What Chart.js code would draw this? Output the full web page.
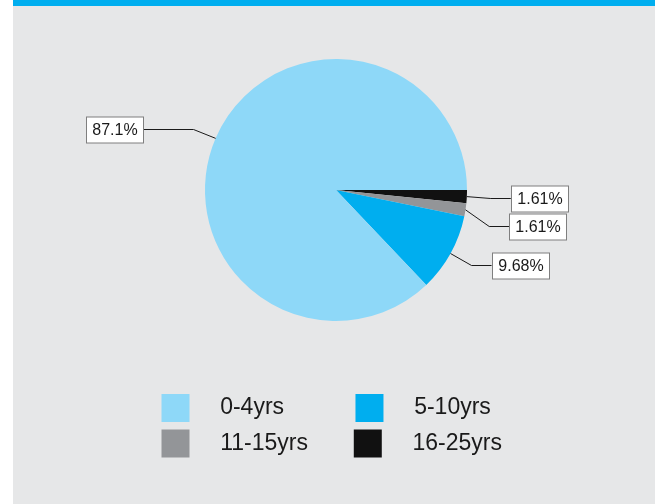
<!DOCTYPE html>
<html>
<head>
<meta charset="utf-8">
<script src="https://cdn.jsdelivr.net/npm/chart.js@4.4.1/dist/chart.umd.min.js"></script>
<style>
  html, body { margin: 0; padding: 0; background: #ffffff; }
  #panel { position: absolute; left: 13px; top: 0; width: 642px; height: 504px; background: #e6e7e8; border-top: 6px solid #00aeef; box-sizing: border-box; }
  #myChart { position: absolute; left: 0; top: 0; }
</style>
</head>
<body>
<div id="panel"></div>
<canvas id="myChart" width="655" height="504"></canvas>
<script>
// 데이터 (legend order)
const categories = ["0-4yrs", "5-10yrs", "11-15yrs", "16-25yrs"];
const shares = [87.1, 9.68, 1.61, 1.61];
const colors = ["#8ed8f8", "#00aeef", "#939598", "#111111"];

// pie runs counter-clockwise in the original, so feed it reversed
const pieLabels = categories.slice().reverse();
const pieValues = shares.slice().reverse();
const pieColors = colors.slice().reverse();

Chart.defaults.font.family = "'Liberation Sans', Arial, Helvetica, sans-serif";
Chart.defaults.color = "#1a1a1a";

// 라벨 박스 + 지시선
const callouts = {
  id: "callouts",
  afterDatasetsDraw(chart) {
    const ctx = chart.ctx;
    const meta = chart.getDatasetMeta(0);
    const boxH = 26;
    const items = meta.data.map((arc, i) => {
      const p = arc.getProps(["x", "y", "startAngle", "endAngle", "outerRadius"], true);
      const mid = (p.startAngle + p.endAngle) / 2;
      const c = Math.cos(mid), s = Math.sin(mid);
      const out = p.outerRadius + 24;
      return {
        text: pieValues[i] + "%",
        sx: p.x + c * p.outerRadius,
        sy: p.y + s * p.outerRadius,
        ex: p.x + c * out,
        ey: p.y + s * out,
        right: c >= 0,
      };
    });
    // 겹침 방지
    [true, false].forEach((side) => {
      const list = items.filter((it) => it.right === side).sort((a, b) => a.ey - b.ey);
      for (let k = 1; k < list.length; k++) {
        if (list[k].ey - list[k - 1].ey < boxH + 2) list[k].ey = list[k - 1].ey + boxH + 2;
      }
    });
    ctx.save();
    ctx.font = "16px 'Liberation Sans', Arial, sans-serif";
    items.forEach((it) => {
      const tw = ctx.measureText(it.text).width;
      const bw = Math.round(tw + 12);
      const run = it.right ? 20 : 51;
      const hx = it.right ? it.ex + run : it.ex - run;
      const ey = Math.round(it.ey) + 0.5;
      ctx.strokeStyle = "#1a1a1a";
      ctx.lineWidth = 1;
      ctx.beginPath();
      ctx.moveTo(it.sx, it.sy);
      ctx.lineTo(it.ex, ey);
      ctx.lineTo(hx, ey);
      ctx.stroke();
      const bx = Math.round(it.right ? hx : hx - bw) + 0.5;
      const by = Math.round(ey - boxH / 2);
      ctx.fillStyle = "#ffffff";
      ctx.fillRect(bx, by, bw, boxH);
      ctx.strokeStyle = "#7f7f7f";
      ctx.strokeRect(bx, by, bw, boxH);
      ctx.fillStyle = "#1a1a1a";
      ctx.textAlign = "center";
      ctx.textBaseline = "middle";
      ctx.fillText(it.text, bx + bw / 2, by + boxH / 2 + 1);
    });
    ctx.restore();
  },
};

const ctx = document.getElementById("myChart").getContext("2d");

const myChart = new Chart(ctx, {
  type: "pie",
  data: {
    labels: pieLabels,
    datasets: [
      {
        data: pieValues,
        backgroundColor: pieColors,
        borderWidth: 0,
        hoverOffset: 0,
      },
    ],
  },
  options: {
    responsive: false,
    animation: false,
    rotation: 90,
    radius: 131,
    layout: {
      padding: { top: 0, bottom: 36.5, left: 154, right: 137 },
    },
    plugins: {
      tooltip: { enabled: false },
      legend: {
        position: "bottom",
        align: "start",
        onClick: null,
        // 빈 제목으로 범례 위 여백 확보
        title: {
          display: true,
          text: "",
          font: { size: 5, lineHeight: 1 },
          padding: { top: 0, bottom: 1.5 },
        },
        labels: {
          boxWidth: 28,
          boxHeight: 28,
          padding: 7.5,
          color: "#1a1a1a",
          font: { size: 23 },
          generateLabels(chart) {
            const c = chart.ctx;
            c.save();
            c.font = "23px 'Liberation Sans', Arial, sans-serif";
            const colW = 146.5;
            const out = categories.map((name, i) => {
              let text = "   " + name;
              if (i % 2 === 0) {
                const sp = c.measureText(" ").width;
                while (c.measureText(text).width + sp / 2 < colW) text += " ";
              }
              return {
                text,
                fillStyle: colors[i],
                strokeStyle: colors[i],
                lineWidth: 0,
                hidden: false,
                index: categories.length - 1 - i,
              };
            });
            c.restore();
            return out;
          },
        },
      },
    },
  },
  plugins: [callouts],
});
</script>
</body>
</html>
